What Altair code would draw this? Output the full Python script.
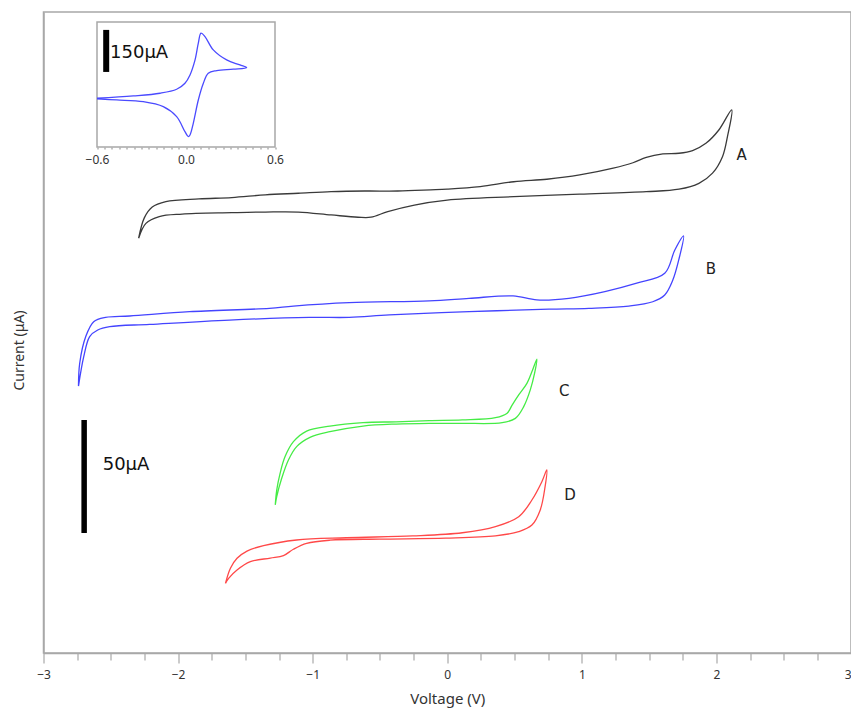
import altair as alt
import pandas as pd

# ---------------- data (voltage in V, current in uA, arbitrary offsets) ----------------
A_V = [-2.293, -2.239, -2.140, -1.970, -1.601, -1.352, -1.106, -0.863, -0.663, -0.567, -0.442, -0.244, 0.000,
       0.494, 0.984, 1.479, 1.722, 1.870, 1.971, 2.045, 2.082, 2.114, 2.018, 1.922, 1.823, 1.722, 1.602, 1.479,
       1.380, 1.233, 0.984, 0.740, 0.494, 0.245, 0.000, -0.124, -0.368, -0.614, -0.863, -1.106, -1.352, -1.601,
       -1.845, -2.091, -2.192, -2.251]
A_I = [183.5, 190.1, 193.1, 194.2, 194.8, 195.1, 195.1, 193.8, 192.8, 192.8, 195.3, 198.2, 200.4,
       201.9, 203.0, 204.1, 205.2, 207.8, 212.3, 219.6, 228.5, 240.3, 231.4, 225.5, 222.3, 221.1, 220.8, 219.3,
       216.9, 214.5, 211.5, 209.6, 208.5, 206.3, 205.2, 204.9, 204.4, 204.4, 204.1, 203.4, 202.7, 201.5,
       200.9, 199.7, 197.3, 192.5]

B_V = [-2.740, -2.701, -2.657, -2.597, -2.508, -2.211, -1.618, -1.025, -0.728, -0.431, 0.162, 0.756, 1.052,
       1.349, 1.527, 1.616, 1.676, 1.720, 1.756, 1.691, 1.616, 1.408, 1.171, 0.904, 0.666, 0.489, 0.162,
       -0.134, -0.728, -1.143, -1.321, -1.915, -2.360, -2.538, -2.627, -2.686, -2.731]
B_I = [118.1, 131.1, 140.0, 142.9, 144.4, 145.4, 147.3, 148.5, 148.5, 149.6, 151.0, 152.1, 152.5,
       153.5, 155.4, 158.4, 165.0, 173.9, 184.5, 178.3, 168.0, 163.6, 159.9, 156.9, 156.2, 158.0, 156.9,
       155.8, 155.0, 153.5, 152.5, 151.0, 149.1, 148.5, 146.6, 140.0, 128.2]

C_V = [-1.278, -1.267, -1.242, -1.205, -1.143, -1.045, -0.872, -0.626, -0.380, -0.134, 0.112, 0.358, 0.445,
       0.482, 0.531, 0.592, 0.634, 0.666, 0.649, 0.617, 0.568, 0.506, 0.408, 0.112, -0.134, -0.380, -0.626,
       -0.872, -1.020, -1.119, -1.180, -1.230, -1.267]
C_I = [65.5, 72.1, 79.5, 86.9, 93.5, 98.2, 100.4, 101.9, 102.3, 102.8, 103.1, 104.1, 106.1,
       109.7, 114.2, 119.3, 125.2, 130.0, 123.8, 116.4, 109.0, 103.8, 101.9, 101.6, 101.6, 101.3, 100.4,
       97.9, 95.4, 91.3, 85.4, 77.3, 69.2]

D_V = [-1.648, -1.611, -1.562, -1.488, -1.365, -1.119, -0.750, -0.257, 0.112, 0.358, 0.531, 0.629, 0.703,
       0.740, 0.727, 0.691, 0.629, 0.531, 0.358, -0.011, -0.503, -0.872, -1.045, -1.143, -1.217, -1.315,
       -1.463, -1.562, -1.623]
D_I = [30.8, 37.5, 41.9, 45.1, 47.5, 50.0, 51.0, 51.8, 53.2, 55.9, 60.3, 67.7, 75.8,
       81.0, 73.6, 63.3, 56.6, 53.7, 51.8, 50.8, 50.4, 49.9, 48.5, 45.9, 43.1, 42.0,
       40.4, 36.7, 33.1]

INSET_V = [-0.600, -0.355, -0.175, -0.063, -0.007, 0.027, 0.061, 0.083, 0.101, 0.128, 0.184, 0.274, 0.364,
           0.409, 0.319, 0.207, 0.150, 0.117, 0.083, 0.049, 0.027, 0.016, -0.007, -0.063, -0.153, -0.288,
           -0.467, -0.600]
INSET_I = [173.9, 182.1, 191.8, 206.0, 227.5, 257.1, 310.7, 370.3, 406.0, 393.9, 346.4, 310.7, 292.8,
           283.2, 277.5, 272.5, 263.2, 227.5, 167.8, 84.6, 42.9, 36.8, 54.6, 108.2, 143.9, 161.8,
           167.8, 171.4]

CURVE_NAMES = ["A", "B", "C", "D"]
CURVE_COLORS = ["#3a3a3a", "#4444ff", "#45ec45", "#ff4848"]
LABEL_V = [2.15, 1.92, 0.83, 0.87]
LABEL_I = [220.4, 170.1, 115.9, 69.7]

BAR_TEXT = ["50μA"]
BAR_V = [-2.698]
BAR_LO = [53.1]
BAR_HI = [103.1]
BAR_TEXT_V = [-2.56]
BAR_TEXT_I = [83.2]

INSET_BAR_TEXT = ["150μA"]
INSET_BAR_V = [-0.538]
INSET_BAR_LO = [267.8]
INSET_BAR_HI = [417.8]
INSET_TEXT_V = [-0.512]
INSET_TEXT_I = [336.0]

X_DOMAIN = [-3, 3]
Y_DOMAIN = [0, 283.6]
INSET_X_DOMAIN = [-0.6, 0.6]
INSET_Y_DOMAIN = [0, 446]
X_TICKS = [-3 + 0.25 * k for k in range(25)]
INSET_TICKS = [round(-0.6 + 0.05 * k, 2) for k in range(25)]

# ---------------- tables ----------------
rows = []
for name, vs, cs in zip(CURVE_NAMES, [A_V, B_V, C_V, D_V], [A_I, B_I, C_I, D_I]):
    pts = list(zip(vs, cs))
    pts.append(pts[0])
    for k, (v, c) in enumerate(pts):
        rows.append({"curve": name, "V": v, "I": c, "i": k})
curves_df = pd.DataFrame(rows)
labels_df = pd.DataFrame({"curve": CURVE_NAMES, "V": LABEL_V, "I": LABEL_I})
bar_df = pd.DataFrame({"V": BAR_V, "I": BAR_LO, "I2": BAR_HI})
bar_text_df = pd.DataFrame({"V": BAR_TEXT_V, "I": BAR_TEXT_I, "t": BAR_TEXT})

inset_df = pd.DataFrame({"Vi": INSET_V, "Ii": INSET_I, "i": list(range(len(INSET_V)))})
frame_df = pd.DataFrame({"Vi": [INSET_X_DOMAIN[0]], "Vi2": [INSET_X_DOMAIN[1]],
                         "Ii": [INSET_Y_DOMAIN[0]], "Ii2": [INSET_Y_DOMAIN[1]]})
ibar_df = pd.DataFrame({"Vi": INSET_BAR_V, "Ii": INSET_BAR_LO, "Ii2": INSET_BAR_HI})
itext_df = pd.DataFrame({"Vi": INSET_TEXT_V, "Ii": INSET_TEXT_I, "t": INSET_BAR_TEXT})

# ---------------- styling ----------------
W, H = 807.5, 641
FRAME = "#a8a8a8"
TXT = "#333333"
TICK_FONT = "Noto Sans"
MARK_FONT = "DejaVu Sans"

x_axis = alt.Axis(
    values=X_TICKS,
    labelExpr="datum.value % 1 === 0 ? format(datum.value, 'd') : ''",
    labelAlign={"condition": {"test": "datum.value >= 3", "value": "right"}, "value": "center"},
    tickSize={"condition": {"test": "datum.value % 1 === 0", "value": 10}, "value": 7},
    labelPadding=6, labelFlush=False, labelOverlap=False,
    labelFont=TICK_FONT, labelFontSize=12, labelColor=TXT,
    title="Voltage (V)", titleFont=TICK_FONT, titleFontSize=15, titleFontWeight="normal",
    titleColor=TXT, titleY=45, titleBaseline="middle",
    domainColor=FRAME, domainWidth=1.5, tickColor=FRAME, tickWidth=1.2, grid=False,
)
y_axis = alt.Axis(
    title="Current (μA)", ticks=False, labels=False, grid=False,
    domainColor=FRAME, domainWidth=1.5,
    titleFont=TICK_FONT, titleFontSize=14, titleFontWeight="normal", titleColor=TXT,
    titleX=-24.5, titleY=338, titleAngle=270, titleAlign="center", titleBaseline="middle",
)
X = alt.X("V:Q", scale=alt.Scale(domain=X_DOMAIN, nice=False, zero=False), axis=x_axis)
Y = alt.Y("I:Q", scale=alt.Scale(domain=Y_DOMAIN, nice=False, zero=False), axis=y_axis)

curves = alt.Chart(curves_df).mark_line(strokeWidth=1.3, interpolate="catmull-rom").encode(
    x=X, y=Y,
    color=alt.Color("curve:N", scale=alt.Scale(domain=CURVE_NAMES, range=CURVE_COLORS), legend=None),
    order=alt.Order("i:Q"),
)
labels = alt.Chart(labels_df).mark_text(align="left", baseline="middle", font=MARK_FONT,
                                        fontSize=15, color="#222222").encode(x=X, y=Y, text="curve:N")
bar = alt.Chart(bar_df).mark_rule(strokeWidth=5.5, color="black").encode(x=X, y=Y, y2="I2:Q")
bar_text = alt.Chart(bar_text_df).mark_text(align="left", baseline="middle", font=MARK_FONT,
                                            fontSize=18, color="#111111").encode(x=X, y=Y, text="t:N")
main = alt.layer(curves, bar, bar_text, labels)

inset_x_axis = alt.Axis(
    orient="bottom", offset=-506, values=INSET_TICKS,
    labelExpr="(datum.value == -0.6 || datum.value == 0 || datum.value == 0.6) ? format(datum.value, '.1f') : ''",
    tickSize=2, tickColor="#888888", tickWidth=1, domain=False, grid=False, title=None,
    labelPadding=5, labelFlush=False, labelOverlap=False,
    labelFont=TICK_FONT, labelFontSize=12, labelColor=TXT,
)
XI = alt.X("Vi:Q", scale=alt.Scale(domain=INSET_X_DOMAIN, range=[53.5, 231.5], nice=False, zero=False),
           axis=inset_x_axis)
YI = alt.Y("Ii:Q", scale=alt.Scale(domain=INSET_Y_DOMAIN, range=[135, 10], nice=False, zero=False),
           axis=None)

frame = alt.Chart(frame_df).mark_rect(filled=False, stroke=FRAME, strokeWidth=1.5).encode(
    x=XI, x2="Vi2:Q", y=YI, y2="Ii2:Q")
iline = alt.Chart(inset_df).mark_line(strokeWidth=1.3, color="#4a4aff", interpolate="catmull-rom").encode(
    x=XI, y=YI, order=alt.Order("i:Q"))
ibar = alt.Chart(ibar_df).mark_rule(strokeWidth=6, color="black").encode(x=XI, y=YI, y2="Ii2:Q")
itext = alt.Chart(itext_df).mark_text(align="left", baseline="middle", font=MARK_FONT,
                                      fontSize=18, color="#111111").encode(x=XI, y=YI, text="t:N")
inset = alt.layer(frame, iline, ibar, itext)

chart = alt.layer(main, inset).resolve_scale(x="independent", y="independent").properties(
    width=W, height=H,
    padding={"left": 35.5, "top": 4, "right": 0, "bottom": 55},
    autosize=alt.AutoSizeParams(type="none"),
).configure_view(stroke=FRAME, strokeWidth=1.5)

chart.save("out.html", embed_options={"renderer": "svg", "actions": False})
